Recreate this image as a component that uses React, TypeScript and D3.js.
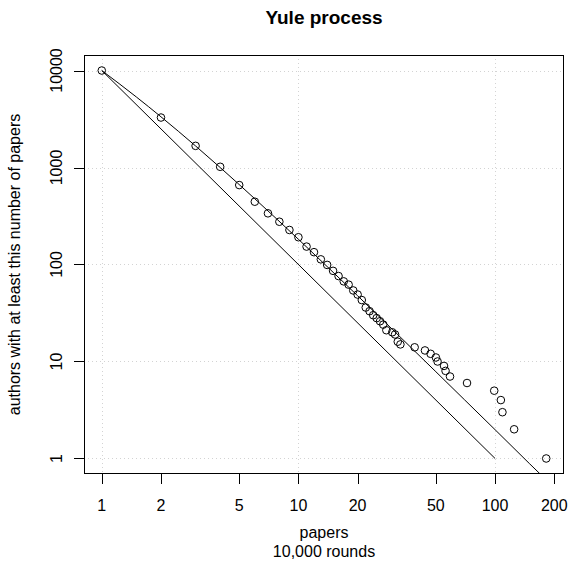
import { useEffect, useRef } from 'react';
import * as d3 from 'd3';

// simulated Yule process: number of papers vs authors with at least that many
const papers = [
  1, 2, 3, 4, 5, 6, 7, 8, 9, 10, 11, 12, 13, 14, 15, 16, 17, 18, 19, 20, 21, 22, 23, 24, 25, 26, 27, 28,
  30, 31, 32, 33, 39, 44, 47, 50, 51, 55, 56, 59, 72, 99, 107, 109, 125, 182,
];
const authors = [
  10000, 3275, 1672, 1017, 659, 444, 337, 276, 227, 191, 153, 134, 113, 99, 86, 76, 67, 62, 54, 49, 43, 36,
  33, 30, 28, 26, 24, 21, 20, 19, 16, 15, 14, 13, 12, 11, 10, 9, 8, 7, 6, 5, 4, 3, 2, 1,
];

// reference lines
const steepX = [1, 100];
const steepY = [10000, 1];
const yuleX = [1, 1.5, 2, 3, 4, 6, 10, 15, 20, 30, 50, 70, 100, 150, 200];
const yuleY = [10000, 5333, 3333, 1667, 1000, 476, 182, 83.3, 47.6, 21.5, 7.84, 4.02, 1.98, 0.88, 0.5];

const xTicks = [1, 2, 5, 10, 20, 50, 100, 200];
const yTicks = [1, 10, 100, 1000, 10000];
const xGrid = [1, 10, 100];
const yGrid = [1, 10, 100, 1000, 10000];

const FONT = '"Liberation Sans", Arial, Helvetica, sans-serif';

// R style: stretch the log range by 4% on each side
function padLog(values: number[]): [number, number] {
  const [lo, hi] = d3.extent(values) as [number, number];
  const f = Math.pow(hi / lo, 0.04);
  return [lo / f, hi * f];
}

export default function App() {
  const svgRef = useRef<SVGSVGElement>(null);
  const width = 568;
  const height = 577;

  useEffect(() => {
    if (!svgRef.current) return;
    const svg = d3.select(svgRef.current);
    svg.selectAll('*').remove();

    const margin = { top: 55, right: 4, bottom: 103, left: 84 };
    const left = margin.left;
    const right = width - margin.right;
    const top = margin.top;
    const bottom = height - margin.bottom;

    const x = d3.scaleLog().domain(padLog(papers)).range([left, right]);
    const y = d3.scaleLog().domain(padLog(authors)).range([bottom, top]);

    svg
      .append('rect')
      .attr('width', width)
      .attr('height', height)
      .attr('fill', '#fff');

    svg
      .append('clipPath')
      .attr('id', 'plot-clip')
      .append('rect')
      .attr('x', left)
      .attr('y', top)
      .attr('width', right - left)
      .attr('height', bottom - top);

    // grid
    const grid = svg.append('g').attr('stroke', '#d3d3d3').attr('stroke-dasharray', '1,3');
    grid
      .selectAll('.gx')
      .data(xGrid)
      .enter()
      .append('line')
      .attr('x1', d => Math.round(x(d)) + 0.5)
      .attr('x2', d => Math.round(x(d)) + 0.5)
      .attr('y1', top)
      .attr('y2', bottom);
    grid
      .selectAll('.gy')
      .data(yGrid)
      .enter()
      .append('line')
      .attr('y1', d => Math.round(y(d)) + 0.5)
      .attr('y2', d => Math.round(y(d)) + 0.5)
      .attr('x1', left)
      .attr('x2', right);

    const plot = svg.append('g').attr('clip-path', 'url(#plot-clip)');
    const line = d3
      .line<[number, number]>()
      .x(d => x(d[0]))
      .y(d => y(d[1]));

    plot
      .append('path')
      .attr('d', line(steepX.map((v, i) => [v, steepY[i]] as [number, number])))
      .attr('fill', 'none')
      .attr('stroke', '#000')
      .attr('stroke-width', 1);

    plot
      .append('path')
      .attr('d', line.curve(d3.curveMonotoneX)(yuleX.map((v, i) => [v, yuleY[i]] as [number, number])))
      .attr('fill', 'none')
      .attr('stroke', '#000')
      .attr('stroke-width', 1);

    // points
    svg
      .append('g')
      .selectAll('circle')
      .data(papers)
      .enter()
      .append('circle')
      .attr('cx', d => x(d))
      .attr('cy', (d, i) => y(authors[i]))
      .attr('r', 3.8)
      .attr('fill', 'none')
      .attr('stroke', '#000')
      .attr('stroke-width', 1);

    // box
    svg
      .append('rect')
      .attr('x', left + 0.5)
      .attr('y', top + 0.5)
      .attr('width', right - left - 1)
      .attr('height', bottom - top - 1)
      .attr('fill', 'none')
      .attr('stroke', '#000');

    // x axis
    const xa = svg.append('g');
    xa.selectAll('line')
      .data(xTicks)
      .enter()
      .append('line')
      .attr('x1', d => Math.round(x(d)) + 0.5)
      .attr('x2', d => Math.round(x(d)) + 0.5)
      .attr('y1', bottom)
      .attr('y2', bottom + 10)
      .attr('stroke', '#000');
    xa.selectAll('text')
      .data(xTicks)
      .enter()
      .append('text')
      .attr('x', d => x(d))
      .attr('y', bottom + 37)
      .attr('text-anchor', 'middle')
      .attr('font-family', FONT)
      .attr('font-size', '16px')
      .text(d => String(d));

    // y axis
    const ya = svg.append('g');
    ya.selectAll('line')
      .data(yTicks)
      .enter()
      .append('line')
      .attr('y1', d => Math.round(y(d)) + 0.5)
      .attr('y2', d => Math.round(y(d)) + 0.5)
      .attr('x1', left - 10)
      .attr('x2', left)
      .attr('stroke', '#000');
    ya.selectAll('text')
      .data(yTicks)
      .enter()
      .append('text')
      .attr('transform', d => `translate(${left - 22},${y(d)}) rotate(-90)`)
      .attr('text-anchor', 'middle')
      .attr('font-family', FONT)
      .attr('font-size', '16px')
      .text(d => String(d));

    // labels
    svg
      .append('text')
      .attr('x', (left + right) / 2)
      .attr('y', 24)
      .attr('text-anchor', 'middle')
      .attr('font-family', FONT)
      .attr('font-size', '19px')
      .attr('font-weight', 'bold')
      .text('Yule process');

    svg
      .append('text')
      .attr('x', (left + right) / 2)
      .attr('y', bottom + 64)
      .attr('text-anchor', 'middle')
      .attr('font-family', FONT)
      .attr('font-size', '16px')
      .text('papers');

    svg
      .append('text')
      .attr('x', (left + right) / 2)
      .attr('y', bottom + 83)
      .attr('text-anchor', 'middle')
      .attr('font-family', FONT)
      .attr('font-size', '16px')
      .text('10,000 rounds');

    svg
      .append('text')
      .attr('transform', `translate(${left - 64},${(top + bottom) / 2}) rotate(-90)`)
      .attr('text-anchor', 'middle')
      .attr('font-family', FONT)
      .attr('font-size', '16px')
      .text('authors with at least this number of papers');
  }, []);

  return (
    <svg
      ref={svgRef}
      width={width}
      height={height}
      style={{ position: 'absolute', left: 0, top: 0, display: 'block' }}
    ></svg>
  );
}
